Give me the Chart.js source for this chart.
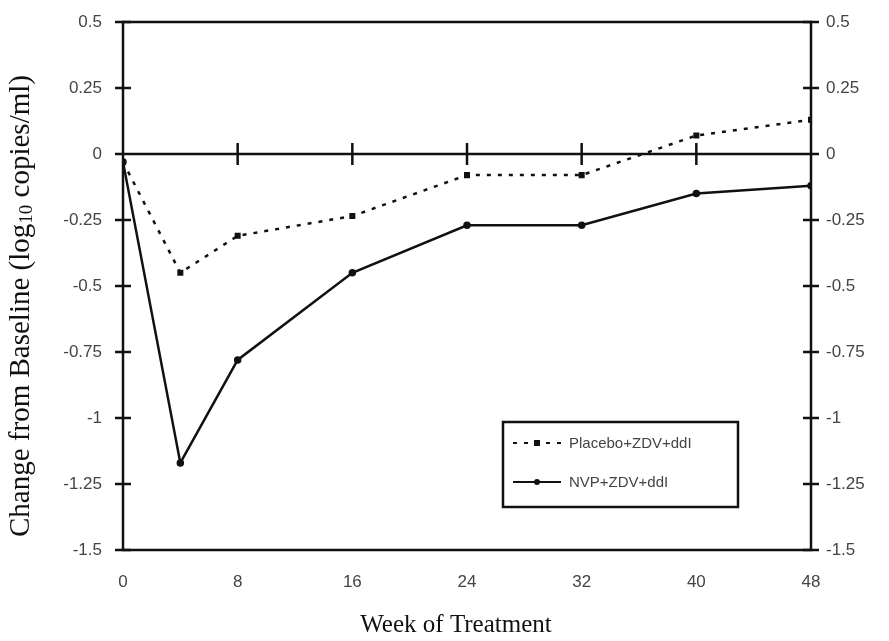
<!DOCTYPE html>
<html>
<head>
<meta charset="utf-8">
<script src="https://cdn.jsdelivr.net/npm/chart.js@4/dist/chart.umd.min.js"></script>
<style>
  html, body { margin: 0; padding: 0; background: #fff; }
  #wrap { width: 889px; height: 641px; }
</style>
</head>
<body>
<div id="wrap"><canvas id="myChart"></canvas></div>
<script>
// data
const weeks = [0, 4, 8, 16, 24, 32, 40, 48];
const placebo = [-0.03, -0.45, -0.31, -0.235, -0.08, -0.08, 0.07, 0.13];
const nvp = [-0.03, -1.17, -0.78, -0.45, -0.27, -0.27, -0.15, -0.12];
const xTicks = [0, 8, 16, 24, 32, 40, 48];
const yTicks = [0.5, 0.25, 0, -0.25, -0.5, -0.75, -1, -1.25, -1.5];
const seriesNames = ["Placebo+ZDV+ddI", "NVP+ZDV+ddI"];

const ink = "#111";
const tickFont = { family: "'Liberation Sans', Arial, sans-serif", size: 17 };

// frame, zero line, crossing tick marks, legend box and axis titles
const framePlugin = {
  id: "frame",
  afterDatasetsDraw(chart) {
    const ctx = chart.ctx;
    const a = chart.chartArea;
    const xs = chart.scales.x;
    const ys = chart.scales.y;
    const y0 = ys.getPixelForValue(0);
    ctx.save();
    ctx.strokeStyle = ink;
    ctx.lineWidth = 2.5;
    ctx.setLineDash([]);
    ctx.strokeRect(a.left, a.top, a.right - a.left, a.bottom - a.top);
    ctx.beginPath();
    ctx.moveTo(a.left, y0);
    ctx.lineTo(a.right, y0);
    xTicks.slice(1, -1).forEach(function (t) {
      const px = xs.getPixelForValue(t);
      ctx.moveTo(px, y0 - 11);
      ctx.lineTo(px, y0 + 11);
    });
    yTicks.forEach(function (t) {
      const py = ys.getPixelForValue(t);
      ctx.moveTo(a.left - 8, py);
      ctx.lineTo(a.left + 8, py);
      ctx.moveTo(a.right - 8, py);
      ctx.lineTo(a.right + 8, py);
    });
    ctx.stroke();

    // legend
    const bx = a.right - 308, by = a.bottom - 128, bw = 235, bh = 85;
    ctx.lineWidth = 2.5;
    ctx.strokeRect(bx, by, bw, bh);
    ctx.font = "15px 'Liberation Sans', Arial, sans-serif";
    ctx.textBaseline = "middle";
    chart.data.datasets.forEach(function (ds, i) {
      const ly = by + 21 + i * 39;
      ctx.strokeStyle = ink;
      ctx.lineWidth = 2;
      ctx.setLineDash(ds.borderDash || []);
      ctx.beginPath();
      ctx.moveTo(bx + 10, ly);
      ctx.lineTo(bx + 58, ly);
      ctx.stroke();
      ctx.setLineDash([]);
      ctx.fillStyle = ink;
      ctx.beginPath();
      if (ds.pointStyle === "rect") {
        ctx.rect(bx + 31, ly - 3, 6, 6);
      } else {
        ctx.arc(bx + 34, ly, 3, 0, Math.PI * 2);
      }
      ctx.fill();
      ctx.fillStyle = "#444";
      ctx.textAlign = "left";
      ctx.fillText(ds.label, bx + 66, ly + 1);
    });

    // axis titles
    ctx.fillStyle = "#111";
    ctx.textAlign = "center";
    ctx.textBaseline = "middle";
    ctx.font = "25px 'Liberation Serif', 'Times New Roman', serif";
    ctx.fillText("Week of Treatment", 456, a.bottom + 75);

    const parts = [
      { t: "Change from Baseline (log", f: "29px 'Liberation Serif', serif", dy: 0 },
      { t: "10", f: "19px 'Liberation Serif', serif", dy: 6 },
      { t: " copies/ml)", f: "29px 'Liberation Serif', serif", dy: 0 }
    ];
    let total = 0;
    parts.forEach(function (p) { ctx.font = p.f; p.w = ctx.measureText(p.t).width; total += p.w; });
    ctx.translate(21, 306);
    ctx.rotate(-Math.PI / 2);
    ctx.textAlign = "left";
    let cx = -total / 2;
    parts.forEach(function (p) {
      ctx.font = p.f;
      ctx.fillText(p.t, cx, p.dy);
      cx += p.w;
    });
    ctx.restore();
  }
};

const fmt = function (v) { return String(v); };

const ctxLine = document.getElementById("myChart").getContext("2d");
const myChart = new Chart(ctxLine, {
  type: "line",
  data: {
    datasets: [
      {
        label: seriesNames[0],
        data: weeks.map(function (w, i) { return { x: w, y: placebo[i] }; }),
        borderColor: ink,
        backgroundColor: ink,
        borderWidth: 2.5,
        borderDash: [4, 7],
        pointStyle: "rect",
        pointRadius: 2.5,
        tension: 0,
      },
      {
        label: seriesNames[1],
        data: weeks.map(function (w, i) { return { x: w, y: nvp[i] }; }),
        borderColor: ink,
        backgroundColor: ink,
        borderWidth: 2.5,
        pointStyle: "circle",
        pointRadius: 2.5,
        tension: 0,
      },
    ],
  },
  options: {
    responsive: true,
    maintainAspectRatio: false,
    animation: false,
    layout: { padding: { top: 22, left: 0, right: 0, bottom: 0 } },
    plugins: {
      legend: { display: false },
      tooltip: { enabled: false },
    },
    scales: {
      x: {
        type: "linear",
        min: 0,
        max: 48,
        afterBuildTicks: function (s) { s.ticks = xTicks.map(function (v) { return { value: v }; }); },
        afterFit: function (s) { s.height = 91; s.paddingLeft = 0; s.paddingRight = 0; },
        grid: { display: false, drawTicks: false },
        border: { display: false },
        ticks: { color: "#444", font: tickFont, padding: 22, maxRotation: 0, callback: fmt },
      },
      y: {
        position: "left",
        min: -1.5,
        max: 0.5,
        afterBuildTicks: function (s) { s.ticks = yTicks.map(function (v) { return { value: v }; }); },
        afterFit: function (s) { s.width = 123; s.paddingTop = 0; s.paddingBottom = 0; },
        grid: { display: false, drawTicks: false },
        border: { display: false },
        ticks: { color: "#444", font: tickFont, padding: 21, callback: fmt },
      },
      y2: {
        position: "right",
        min: -1.5,
        max: 0.5,
        afterBuildTicks: function (s) { s.ticks = yTicks.map(function (v) { return { value: v }; }); },
        afterFit: function (s) { s.width = 78; s.paddingTop = 0; s.paddingBottom = 0; },
        grid: { display: false, drawTicks: false },
        border: { display: false },
        ticks: { color: "#444", font: tickFont, padding: 15, callback: fmt },
      },
    },
  },
  plugins: [framePlugin],
});
</script>
</body>
</html>
